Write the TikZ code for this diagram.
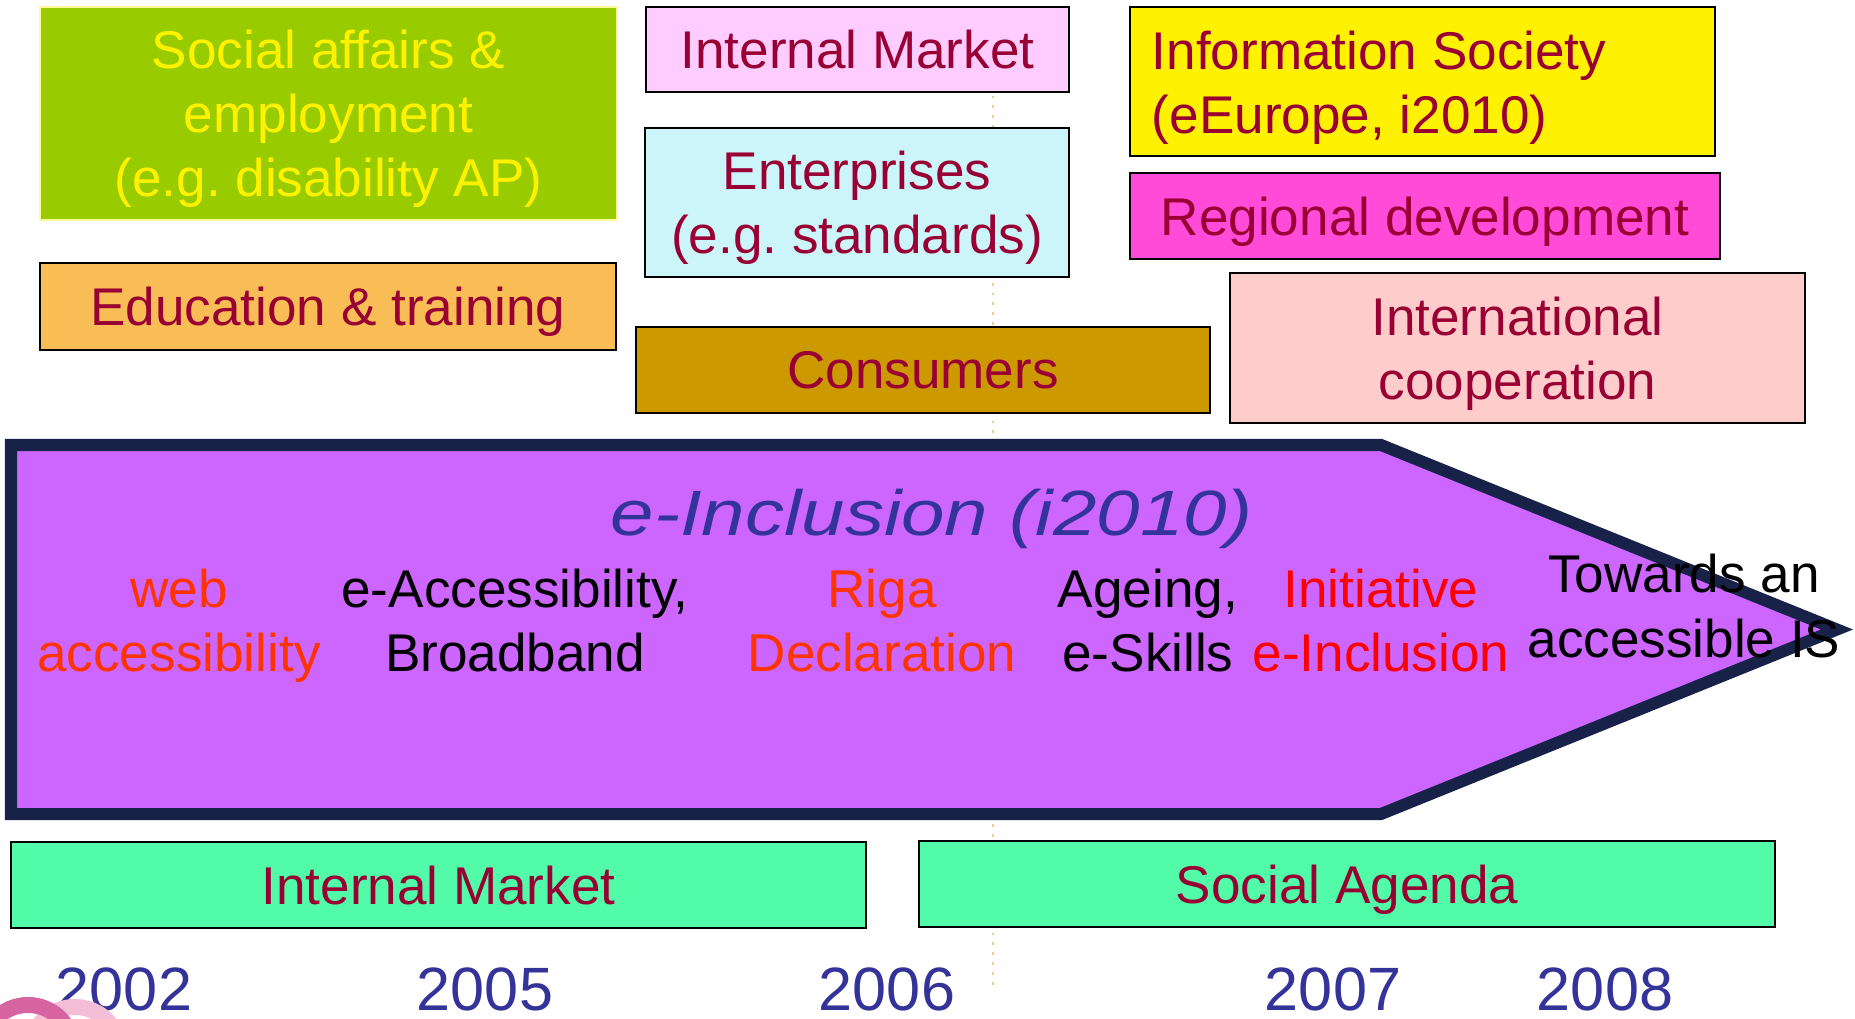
\documentclass[tikz,border=0pt]{standalone}
\usepackage{fontspec}
\setmainfont{Liberation Sans}
\usepackage{graphicx}
\usepackage{xcolor}

\definecolor{boxtext}{RGB}{153,0,51}
\definecolor{socgreen}{RGB}{153,204,0}
\definecolor{edorange}{RGB}{248,190,85}
\definecolor{mktpink}{RGB}{255,204,255}
\definecolor{entcyan}{RGB}{204,245,250}
\definecolor{consgold}{RGB}{204,153,0}
\definecolor{regmag}{RGB}{255,75,215}
\definecolor{intlrose}{RGB}{255,204,204}
\definecolor{agendagreen}{RGB}{82,251,168}
\definecolor{arrowfill}{RGB}{204,102,255}
\definecolor{arrowline}{RGB}{24,34,72}
\definecolor{yearblue}{RGB}{51,51,153}
\definecolor{hotred}{RGB}{255,51,0}
\definecolor{gridorange}{RGB}{248,200,140}
\definecolor{logodark}{RGB}{214,100,160}
\definecolor{logolight}{RGB}{245,190,215}

\tikzset{
  topic/.style={draw=black, line width=0.6pt, text=boxtext, align=center, inner sep=0pt,
    text depth=0pt, font=\fontsize{15.1}{18.2}\selectfont},
  milestone/.style={anchor=base, align=center, inner sep=0pt,
    font=\fontsize{15.1}{18.2}\selectfont},
  yearlbl/.style={anchor=base, text=yearblue, inner sep=0pt,
    font=\fontsize{17.4}{20}\selectfont}
}

\begin{document}
\frenchspacing
\begin{tikzpicture}[x=0.01cm, y=-0.01cm]
\useasboundingbox (0,0) rectangle (1855,1019);

% faint guide line
\draw[gridorange, dotted, line width=0.8pt] (993,7) -- (993,988);

% policy areas
\node[topic, fill=socgreen, draw=yellow!40, text=yellow, minimum width=5.77cm, minimum height=2.13cm] (social) at (328.5,113.5) {Social affairs \&\\employment\\(e.g. disability AP)};
\node[topic, fill=edorange, minimum width=5.76cm, minimum height=0.87cm] (edu) at (328,306.5) {Education \& training};
\node[topic, fill=mktpink, minimum width=4.23cm, minimum height=0.85cm] (mkttop) at (857.5,49.5) {Internal Market};
\node[topic, fill=entcyan, minimum width=4.24cm, minimum height=1.49cm] (enterprise) at (857,202.5) {Enterprises\\(e.g. standards)};
\node[topic, fill=consgold, minimum width=5.74cm, minimum height=0.86cm] (consumer) at (923,370) {Consumers};
\node[topic, fill=yellow, minimum height=1.49cm, text width=5.41cm, inner xsep=0.22cm, align=flush left,
  text height=0.4cm, text depth=0.63cm] (infosoc) at (1422.5,81.5) {Information Society\\(eEurope, i2010)};
\node[topic, fill=regmag, minimum width=5.9cm, minimum height=0.86cm] (regional) at (1425,216) {Regional development};
\node[topic, fill=intlrose, minimum width=5.75cm, minimum height=1.5cm] (intl) at (1517.5,348) {International\\cooperation};

% the big arrow
\draw[arrowline, fill=arrowfill, line width=0.12cm, line join=miter] (11,445) -- (1381,445) -- (1837,629.5) -- (1381,814) -- (11,814) -- cycle;
\node[anchor=base, text=yearblue, inner sep=0pt, font=\fontsize{18.2}{22}\selectfont] (title) at (932,536) {\scalebox{1.22}[1]{\itshape e-Inclusion (i2010)}};

\node[milestone, text=hotred] (web) at (179,672) {web\\accessibility};
\node[milestone] (eacc) at (515,672) {e-Accessibility,\\Broadband};
\node[milestone, text=hotred] (riga) at (882,672) {Riga\\Declaration};
\node[milestone] (ageing) at (1148,672) {Ageing,\\e-Skills};
\node[milestone, text=red] (initiative) at (1381,672) {Initiative\\e-Inclusion};
\node[milestone] (towards) at (1684,657) {Towards an\\accessible IS};

% frameworks
\node[topic, fill=agendagreen, minimum width=8.55cm, minimum height=0.86cm] (mktbot) at (438.5,885) {Internal Market};
\node[topic, fill=agendagreen, minimum width=8.56cm, minimum height=0.86cm] (agenda) at (1347,884) {Social Agenda};

% years
\foreach \yr/\xx in {2002/124, 2005/485, 2006/887, 2007/1333, 2008/1605}
  \node[yearlbl] (y\yr) at (\xx,1010) {\yr};

% logo corner
\begin{scope}
\clip (0,0) rectangle (1855,1019);
\draw[logolight, line width=0.16cm] (75,1052) circle[radius=0.45cm];
\draw[logodark, line width=0.16cm] (28,1050) circle[radius=0.45cm];
\end{scope}
\end{tikzpicture}
\end{document}
